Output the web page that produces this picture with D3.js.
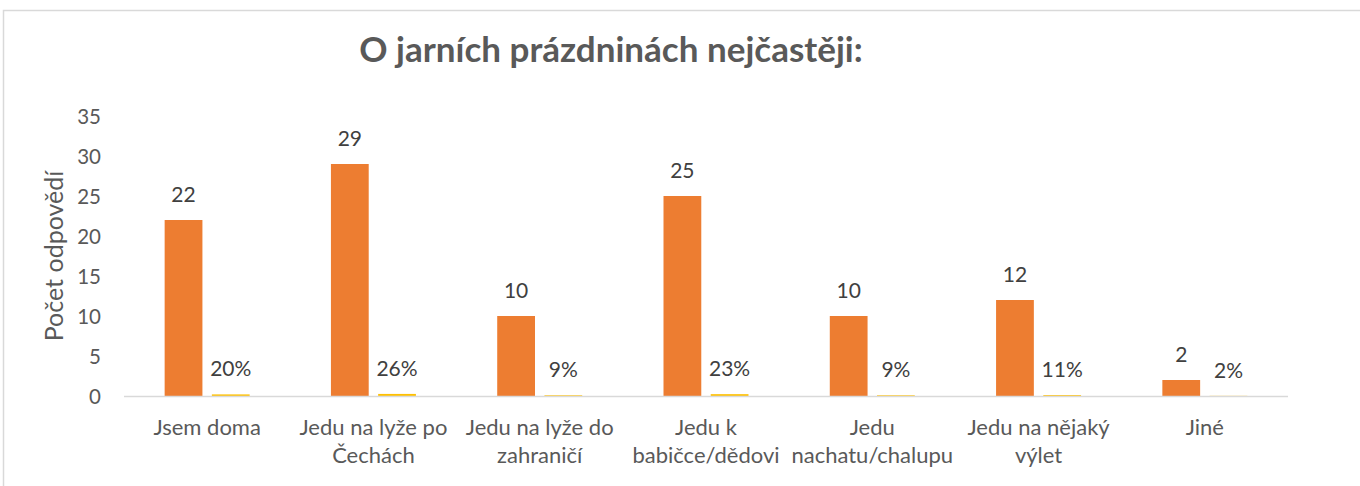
<!DOCTYPE html>
<html><head><meta charset="utf-8">
<script src="https://cdn.jsdelivr.net/npm/d3@7"></script>
<style>body{margin:0;background:#fff;} svg{display:block;}</style>
</head><body>
<svg id="c" width="1360" height="486"></svg>
<script>
const categories = ["Jsem doma\n", "Jedu na lyže po\nČechách", "Jedu na lyže do\nzahraničí", "Jedu k\nbabičce/dědovi", "Jedu\nnachatu/chalupu", "Jedu na nějaký\nvýlet", "Jiné\n"];
const counts = [22, 29, 10, 25, 10, 12, 2];
const shares = [0.20, 0.26, 0.09, 0.23, 0.09, 0.11, 0.02];
const yTicks = [0, 5, 10, 15, 20, 25, 30, 35];
const title = "O jarních prázdninách nejčastěji:";
const yTitle = "Počet odpovědí";

const FONT = "Lato, sans-serif";
const svg = d3.select("#c");
svg.append("path").attr("d","M3.5,486V10.5H1360").attr("fill","none").attr("stroke","#D9D9D9").attr("stroke-width",1.5);

const x0 = d3.scaleBand().domain(d3.range(categories.length)).range([124,1288]).paddingInner(0).paddingOuter(0);
const y = d3.scaleLinear().domain([0,35]).range([396,116]);
const inner = d3.scaleBand().domain([0,1]).range([0,85]).paddingInner(0.2);
const groupOff = (x0.bandwidth()-85)/2;

// y axis ticks
const yAxis = d3.axisLeft(y).tickValues(yTicks).tickSize(0).tickPadding(0);
const ya = svg.append("g").attr("transform","translate(101,0)").call(yAxis);
ya.select(".domain").remove();
ya.selectAll("text").attr("font-family",FONT).attr("font-size",20.5).attr("fill","#595959").attr("dy","0.35em");

// bars
const g = svg.append("g");
g.selectAll("rect.c").data(counts).join("rect")
  .attr("x",(d,i)=>x0(i)+groupOff+inner(0)).attr("width",inner.bandwidth())
  .attr("y",d=>y(d)).attr("height",d=>y(0)-y(d)).attr("fill","#ED7D31");
g.selectAll("rect.s").data(shares).join("rect")
  .attr("x",(d,i)=>x0(i)+groupOff+inner(1)).attr("width",inner.bandwidth())
  .attr("y",d=>y(d)).attr("height",d=>y(0)-y(d)).attr("fill","#FFC000");

// baseline
svg.append("line").attr("x1",124).attr("x2",1288).attr("y1",396.5).attr("y2",396.5).attr("stroke","#D9D9D9").attr("stroke-width",1.5);

// data labels
g.selectAll("text.c").data(counts).join("text")
  .attr("x",(d,i)=>x0(i)+groupOff+inner(0)+inner.bandwidth()/2).attr("y",d=>y(d)-18)
  .attr("text-anchor","middle").attr("font-family",FONT).attr("font-size",21).attr("fill","#404040").text(d=>d);
g.selectAll("text.s").data(shares).join("text")
  .attr("x",(d,i)=>x0(i)+groupOff+inner(1)+inner.bandwidth()/2).attr("y",d=>y(d)-18)
  .attr("text-anchor","middle").attr("font-family",FONT).attr("font-size",21).attr("fill","#404040").text(d=>d3.format(".0%")(d));

// x labels
const xl = svg.append("g");
categories.forEach((c,i)=>{
  const t = xl.append("text").attr("text-anchor","middle").attr("font-family",FONT).attr("font-size",22).attr("fill","#595959");
  c.split("\n").forEach((ln,j)=>{
    t.append("tspan").attr("x",x0(i)+x0.bandwidth()/2).attr("y",435+j*28).text(ln);
  });
});

// y title
svg.append("text").attr("transform","translate(63,256) rotate(-90)").attr("text-anchor","middle")
  .attr("font-family",FONT).attr("font-size",25).attr("fill","#595959").text(yTitle);

// title
svg.append("text").attr("x",611).attr("y",62).attr("text-anchor","middle").attr("font-family",FONT)
  .attr("font-size",35).attr("font-weight","bold").attr("fill","#595959").text(title);
</script>
</body></html>
